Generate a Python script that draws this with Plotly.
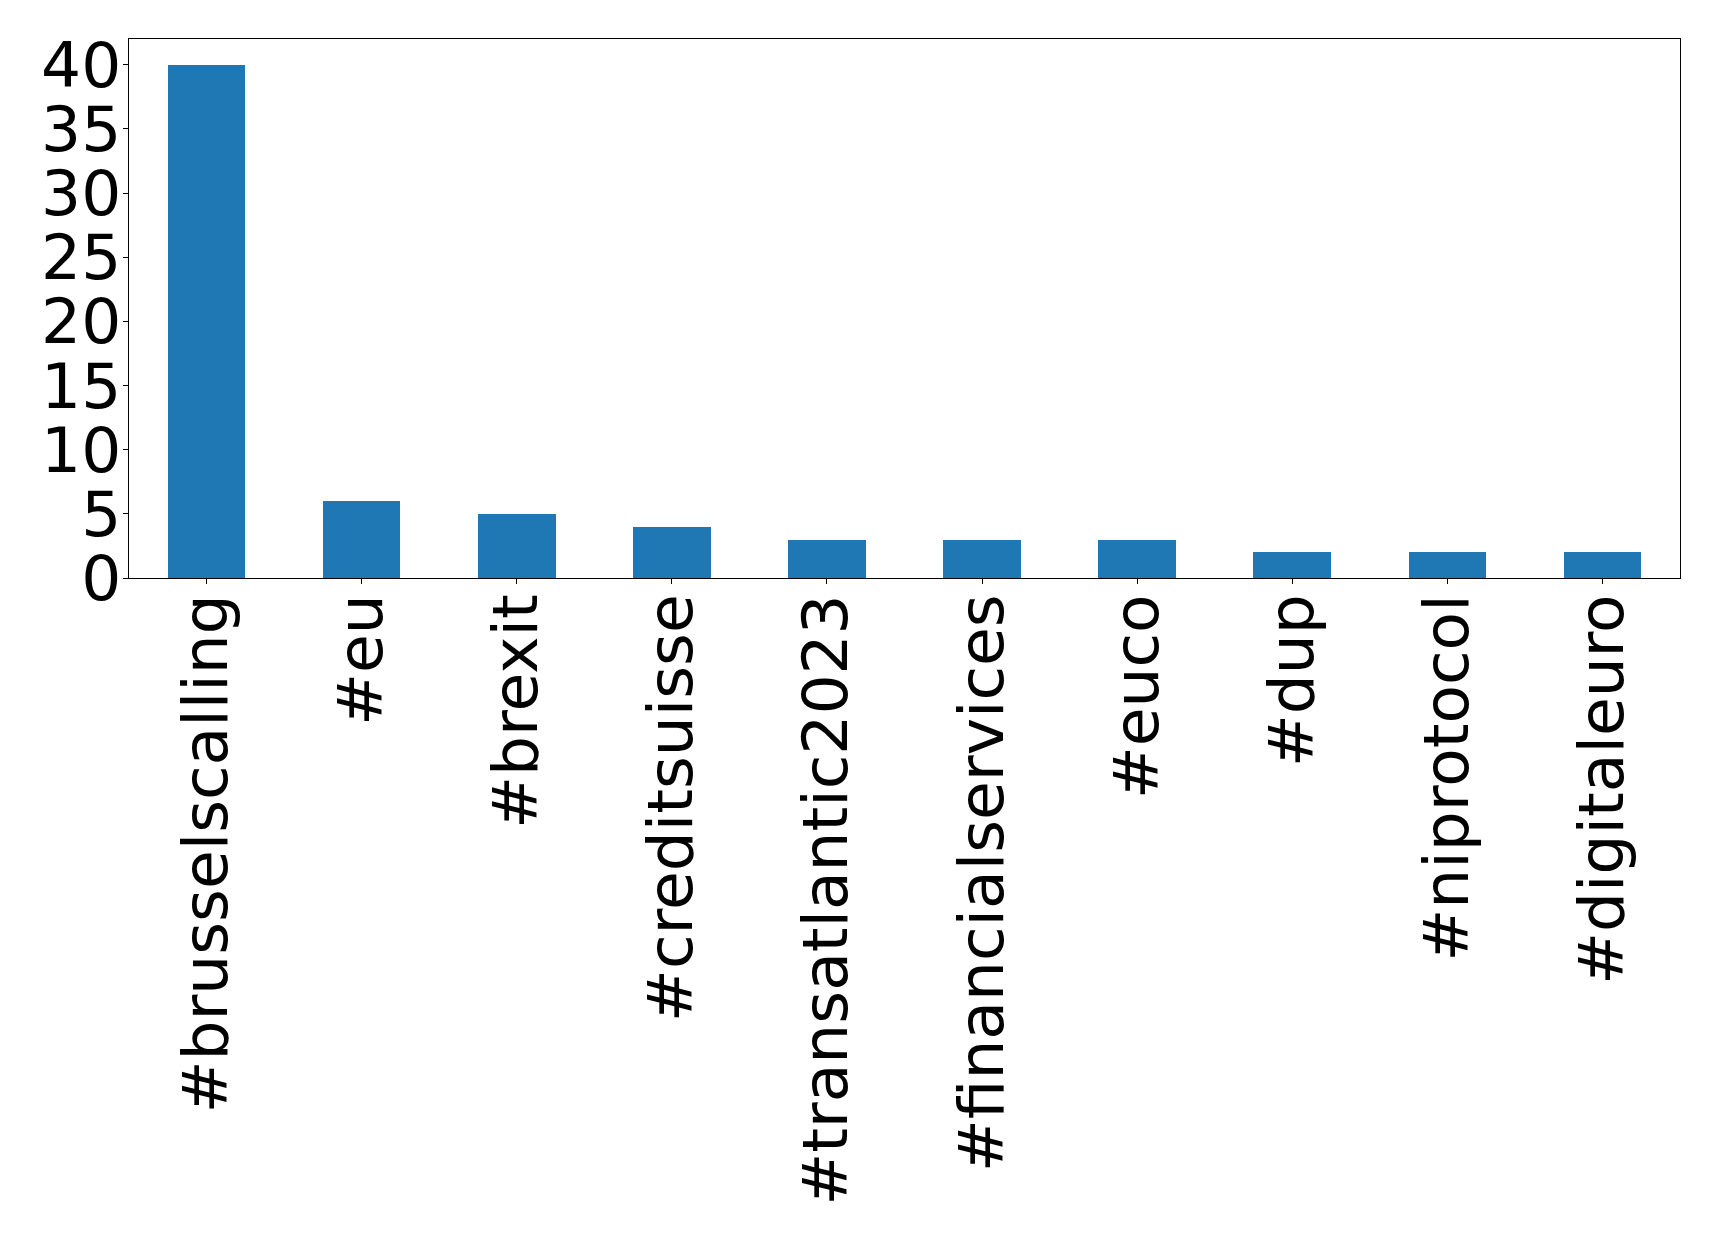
import plotly.graph_objects as go

hashtags = ["#brusselscalling", "#eu", "#brexit", "#creditsuisse", "#transatlantic2023",
            "#financialservices", "#euco", "#dup", "#niprotocol", "#digitaleuro"]
counts = [40, 6, 5, 4, 3, 3, 3, 2, 2, 2]
y_ticks = [0, 5, 10, 15, 20, 25, 30, 35, 40]

fig = go.Figure(go.Bar(
    x=list(range(len(hashtags))), y=counts, width=0.5,
    marker=dict(color="#1f77b4", line=dict(width=0)),
))

font = dict(family="DejaVu Sans", size=63, color="black")
fig.update_layout(
    width=1711, height=1226,
    margin=dict(l=121, r=39, t=31, b=656),
    plot_bgcolor="white", paper_bgcolor="white",
    showlegend=False, bargap=0,
    xaxis=dict(range=[-0.5, 9.5], tickmode="array", tickvals=list(range(len(hashtags))),
               ticktext=hashtags, tickangle=-90, tickfont=font, automargin=False,
               showline=True, linecolor="black", linewidth=1.3, mirror=True,
               ticks="outside", ticklen=5, tickcolor="black", showgrid=False, zeroline=False,
               ticklabelstandoff=-15),
    yaxis=dict(range=[0, 42], tickmode="array", tickvals=y_ticks, tickfont=font, automargin=False,
               showline=True, linecolor="black", linewidth=1.3, mirror=True,
               ticks="outside", ticklen=5, tickcolor="black", showgrid=False, zeroline=False,
               ticklabelstandoff=-11),
)

fig.write_html("out.html")
